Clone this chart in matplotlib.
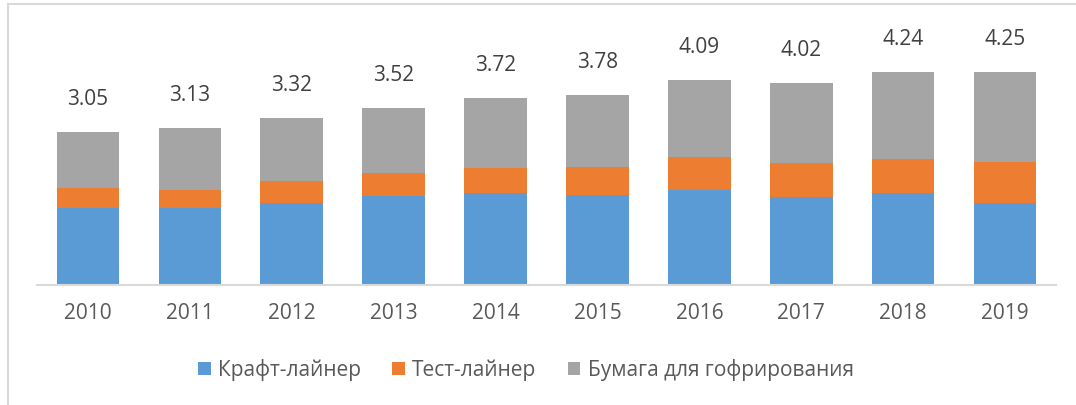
import numpy as np
import matplotlib
matplotlib.use("Agg")
import matplotlib.pyplot as plt
from matplotlib.patches import Rectangle

# -----------------------------
# Данные
# -----------------------------
years = ["2010", "2011", "2012", "2013", "2014", "2015", "2016", "2017", "2018", "2019"]
kraft = [1.53, 1.53, 1.64, 1.77, 1.84, 1.79, 1.89, 1.76, 1.84, 1.63]
test = [0.41, 0.37, 0.43, 0.46, 0.49, 0.56, 0.65, 0.67, 0.67, 0.82]
totals = [3.05, 3.13, 3.32, 3.52, 3.72, 3.78, 4.09, 4.02, 4.24, 4.25]
paper = [t - k - s for t, k, s in zip(totals, kraft, test)]

series_names = ["Крафт-лайнер", "Тест-лайнер", "Бумага для гофрирования"]
colors = ["#5b9bd5", "#ed7d31", "#a5a5a5"]

plt.rcParams["font.family"] = ["Open Sans", "DejaVu Sans"]

W, H = 1076, 405
fig = plt.figure(figsize=(W / 100, H / 100), dpi=100)

# рамка области диаграммы (видны только левая и верхняя стороны)
fig.patches.append(Rectangle((7.5 / W, -0.1), 2.0, 1.1 - 4.5 / H,
                             transform=fig.transFigure, fill=False,
                             edgecolor="#d9d9d9", linewidth=1.5))

ax = fig.add_axes([37 / W, 1 - 285 / H, (1056 - 37) / W, 251 / H])

x = np.arange(len(years))
bw = 0.615
b1 = ax.bar(x, kraft, bw, color=colors[0], label=series_names[0])
b2 = ax.bar(x, test, bw, bottom=kraft, color=colors[1], label=series_names[1])
bottom2 = [k + s for k, s in zip(kraft, test)]
b3 = ax.bar(x, paper, bw, bottom=bottom2, color=colors[2], label=series_names[2])

for xi, t in zip(x, totals):
    ax.annotate(f"{t:.2f}", (xi, t), xytext=(0, 23.5), textcoords="offset points",
                ha="center", va="center", fontsize=15, color="#404040")

ax.set_xlim(-0.5, len(years) - 0.5)
ax.set_ylim(0, 5)
ax.set_xticks(x)
ax.set_xticklabels(years, fontsize=15, color="#595959")
ax.tick_params(axis="x", length=0, pad=13)
ax.set_yticks([])
for s in ["top", "right", "left"]:
    ax.spines[s].set_visible(False)
ax.spines["bottom"].set_color("#d9d9d9")
ax.spines["bottom"].set_linewidth(1.5)

fig.legend(handles=[b1, b2, b3], labels=series_names, loc="center",
           bbox_to_anchor=(526 / W, 1 - 370 / H), ncol=3, frameon=False,
           fontsize=15, handlelength=0.6, handleheight=0.6, handletextpad=0.35,
           columnspacing=1.5, labelcolor="#595959")

fig.savefig("out.png", dpi=100)
